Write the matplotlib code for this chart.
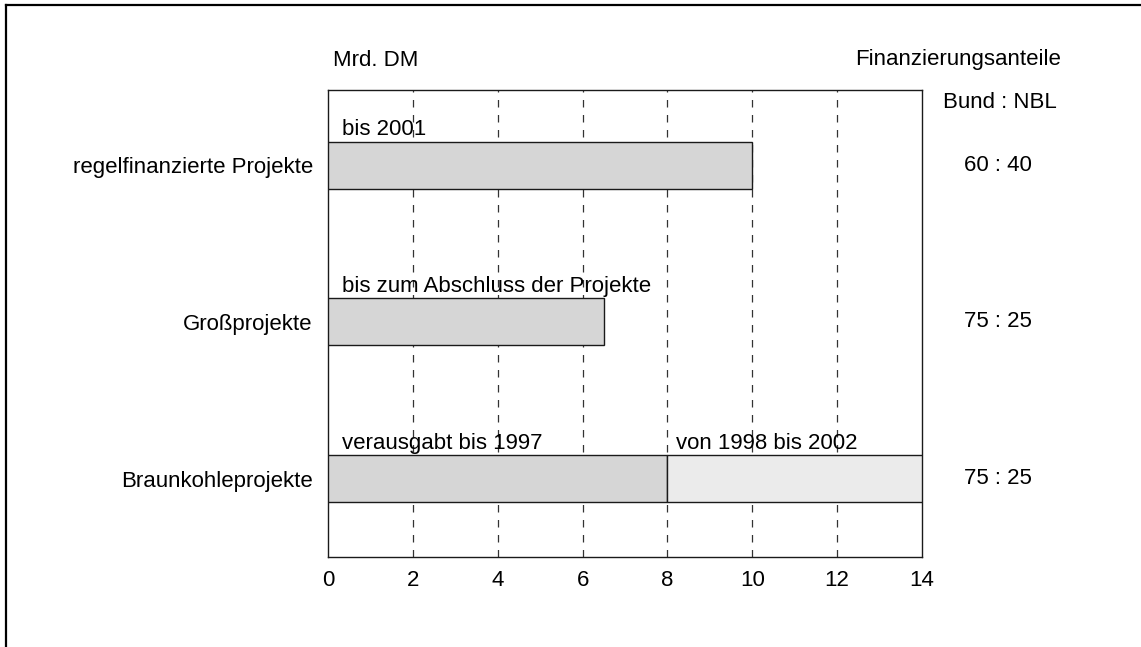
import matplotlib.pyplot as plt
from matplotlib.lines import Line2D
from matplotlib.transforms import blended_transform_factory

plt.rcParams['font.family'] = ['Liberation Sans', 'DejaVu Sans']

# data (Mrd. DM)
categories = ['regelfinanzierte Projekte', 'Großprojekte', 'Braunkohleprojekte']
first_part = [10, 6.5, 8]
second_part = [0, 0, 6]
first_labels = ['bis 2001', 'bis zum Abschluss der Projekte', 'verausgabt bis 1997']
second_labels = ['', '', 'von 1998 bis 2002']
shares = ['60 : 40', '75 : 25', '75 : 25']
x_ticks = [0, 2, 4, 6, 8, 10, 12, 14]

FS = 16

fig = plt.figure(figsize=(11.41, 6.47), dpi=100)
ax = fig.add_axes([0.2875, 0.1391, 0.5206, 0.7218])

bar_h = 0.3
ypos = list(range(len(categories)))

ax.barh(ypos, first_part, height=bar_h, color='#d6d6d6', edgecolor='#1a1a1a', linewidth=1.0, zorder=3)
for y, left, w in zip(ypos, first_part, second_part):
    if w > 0:
        ax.barh(y, w, left=left, height=bar_h, color='#ebebeb', edgecolor='#1a1a1a', linewidth=1.0, zorder=3)

# text above the bars
for y, lab in zip(ypos, first_labels):
    ax.text(0.32, y - bar_h / 2 - 0.04, lab, ha='left', va='baseline', fontsize=FS, zorder=4)
for y, left, lab in zip(ypos, first_part, second_labels):
    if lab:
        ax.text(left + 0.2, y - bar_h / 2 - 0.04, lab, ha='left', va='baseline', fontsize=FS, zorder=4)

ax.set_xlim(0, 14)
ax.set_ylim(2.5, -0.48)
ax.set_xticks(x_ticks)
ax.set_xticklabels([str(t) for t in x_ticks], fontsize=FS)
ax.tick_params(axis='x', length=0, pad=9)
ax.set_yticks(ypos)
ax.set_yticklabels(categories, fontsize=FS)
ax.tick_params(axis='y', length=0, pad=11)

for t in x_ticks[1:-1]:
    ax.axvline(t, color='#333333', linestyle=(0, (6, 6)), linewidth=0.9, zorder=1)

for sp in ax.spines.values():
    sp.set_color('#1a1a1a')
    sp.set_linewidth(1.0)

# share column on the right
x_share = 998 / 1141
fig.text(333 / 1141, 1 - 60 / 647, 'Mrd. DM', ha='left', va='center', fontsize=FS)
fig.text(958 / 1141, 1 - 60 / 647, 'Finanzierungsanteile', ha='center', va='center', fontsize=FS)
fig.text(1000 / 1141, 1 - 102 / 647, 'Bund : NBL', ha='center', va='center', fontsize=FS)
share_tr = blended_transform_factory(fig.transFigure, ax.transData)
for y, s in zip(ypos, shares):
    ax.text(x_share, y, s, transform=share_tr, ha='center', va='center', fontsize=FS)

# outer frame (top and left edge)
fig.add_artist(Line2D([6 / 1141, 1], [1 - 5 / 647, 1 - 5 / 647], color='black', linewidth=1.6))
fig.add_artist(Line2D([6 / 1141, 6 / 1141], [0, 1 - 5 / 647], color='black', linewidth=1.6))

fig.savefig('out.png', dpi=100)
